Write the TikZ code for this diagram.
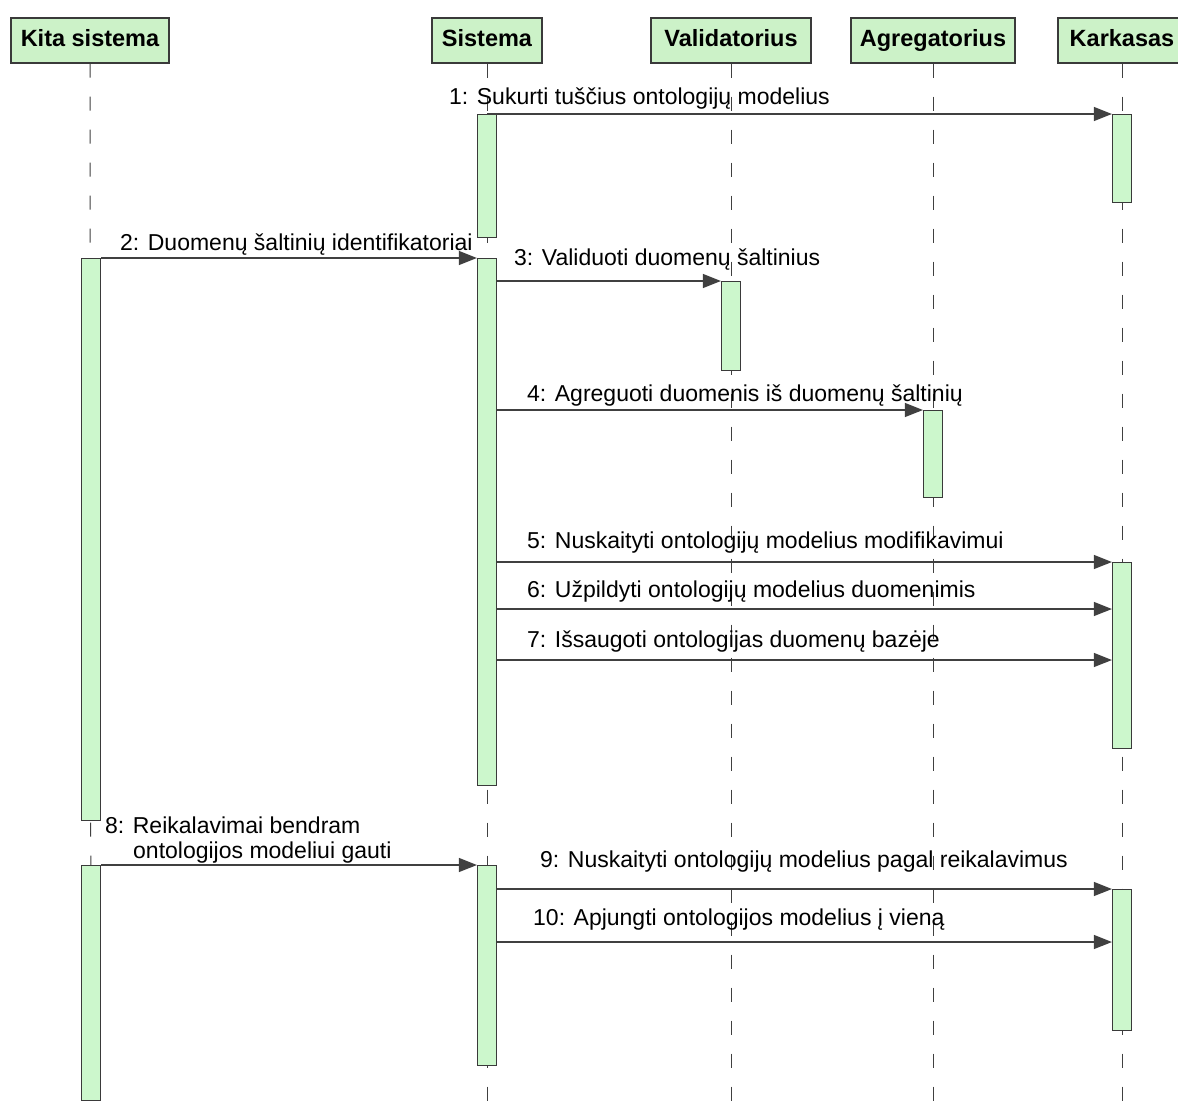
\documentclass[tikz,border=0pt]{standalone}
\usepackage{fontspec}
\setmainfont{Liberation Sans}
\usetikzlibrary{arrows.meta}
\definecolor{boxgreen}{RGB}{204,242,200}
\definecolor{bargreen}{RGB}{204,247,204}
\definecolor{edge}{RGB}{58,58,58}
\definecolor{wire}{RGB}{64,64,64}
\begin{document}
\begin{tikzpicture}[x=1pt,y=-1pt,
  head/.style={draw=edge, line width=1.3pt, fill=boxgreen, minimum height=45pt,
    inner sep=0pt, text height=16.5pt, text depth=4.5pt,
    font=\fontsize{23.5}{26}\selectfont\bfseries},
  life/.style={draw=wire, line width=1pt, dash pattern=on 14pt off 19pt},
  bar/.style={draw=edge, line width=1.2pt, fill=bargreen, minimum width=19pt,
    inner sep=0pt, anchor=north},
  msg/.style={draw=wire, line width=1.2pt, -{Triangle[length=18pt,width=14pt]}},
  lbl/.style={anchor=base west, inner sep=0pt, font=\fontsize{23}{26}\selectfont}]
\useasboundingbox (0,0) rectangle (1178,1119);
\fill[white] (0,0) rectangle (1178,1119);

% participants
\node[head, minimum width=158pt] (kita) at (90,40.5) {Kita sistema};
\node[head, minimum width=110pt] (sis)  at (487,40.5) {Sistema};
\node[head, minimum width=160pt] (val)  at (731,40.5) {Validatorius};
\node[head, minimum width=164pt] (agr)  at (933,40.5) {Agregatorius};
\node[head, minimum width=128pt] (kar)  at (1122,40.5) {Karkasas};

% lifeline ends
\coordinate (kitaend) at (91,1119);
\coordinate (sisend) at (487,1119);
\coordinate (valend) at (731,1119);
\coordinate (agrend) at (933,1119);
\coordinate (karend) at (1122,1119);

\draw[life] (kita.south) -- (kitaend);
\draw[life] (sis.south) -- (sisend);
\draw[life] (val.south) -- (valend);
\draw[life] (agr.south) -- (agrend);
\draw[life] (kar.south) -- (karend);

% activation bars
\node[bar, minimum height=123pt] (s1) at (487,114) {};
\node[bar, minimum height=88pt]  (r1) at (1122,114) {};
\node[bar, minimum height=562pt] (k1) at (91,258) {};
\node[bar, minimum height=527pt] (s2) at (487,258) {};
\node[bar, minimum height=89pt]  (v1) at (731,281) {};
\node[bar, minimum height=87pt]  (a1) at (933,410) {};
\node[bar, minimum height=186pt] (r2) at (1122,562) {};
\node[bar, minimum height=235pt] (k2) at (91,865) {};
\node[bar, minimum height=200pt] (s3) at (487,865) {};
\node[bar, minimum height=141pt] (r3) at (1122,889) {};

% messages
\draw[msg] (s1.north) -- (r1.north west);
\draw[msg] (k1.north east) -- (s2.north west);
\draw[msg] (s2.east |- v1.north) -- (v1.north west);
\draw[msg] (s2.east |- a1.north) -- (a1.north west);
\draw[msg] (s2.east |- r2.north) -- (r2.north west);
\draw[msg] ([yshift=-47pt]s2.east |- r2.north) -- ([yshift=-47pt]r2.north west);
\draw[msg] ([yshift=-98pt]s2.east |- r2.north) -- ([yshift=-98pt]r2.north west);
\draw[msg] (k2.north east) -- (s3.north west);
\draw[msg] (s3.east |- r3.north) -- (r3.north west);
\draw[msg] ([yshift=-53pt]s3.east |- r3.north) -- ([yshift=-53pt]r3.north west);

% message labels
\node[lbl] (m1) at (449,104) {1: Sukurti tuščius ontologijų modelius};
\node[lbl] (m2) at (120,250) {2: Duomenų šaltinių identifikatoriai};
\node[lbl] (m3) at (514,265) {3: Validuoti duomenų šaltinius};
\node[lbl] (m4) at (527,401) {4: Agreguoti duomenis iš duomenų šaltinių};
\node[lbl] (m5) at (527,548) {5: Nuskaityti ontologijų modelius modifikavimui};
\node[lbl] (m6) at (527,597) {6: Užpildyti ontologijų modelius duomenimis};
\node[lbl] (m7) at (527,647) {7: Išsaugoti ontologijas duomenų bazėje};
\node[lbl] (m8a) at (105,833) {8: Reikalavimai bendram};
\node[lbl] (m8b) at (133,858) {ontologijos modeliui gauti};
\node[lbl] (m9) at (540,867) {9: Nuskaityti ontologijų modelius pagal reikalavimus};
\node[lbl] (m10) at (533,925) {10: Apjungti ontologijos modelius į vieną};
\end{tikzpicture}
\end{document}
